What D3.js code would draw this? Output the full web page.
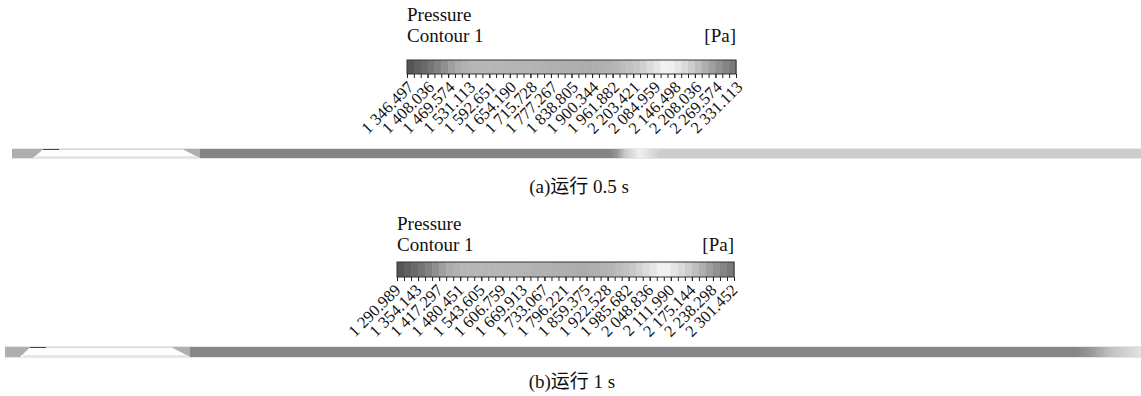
<!DOCTYPE html>
<html>
<head>
<meta charset="utf-8">
<script src="https://cdn.jsdelivr.net/npm/d3@7"></script>
<style>
  html, body { margin: 0; background: #fff; }
  svg { display: block; }
</style>
</head>
<body>
<div id="chart"></div>
<script>
// Legend tick values and the labels as printed (a)
const ticksA = [1346.497, 1408.036, 1469.574, 1531.113, 1592.651, 1654.190, 1715.728, 1777.267, 1838.805,
  1900.344, 1961.882, 2023.421, 2084.959, 2146.498, 2208.036, 2269.574, 2331.113];
const labelsA = ['1 346.497', '1 408.036', '1 469.574', '1 531.113', '1 592.651', '1 654.190', '1 715.728',
  '1 777.267', '1 838.805', '1 900.344', '1 961.882', '2 203.421', '2 084.959', '2 146.498', '2 208.036',
  '2 269.574', '2 331.113'];

// (b)
const ticksB = [1290.989, 1354.143, 1417.297, 1480.451, 1543.605, 1606.759, 1669.913, 1733.067, 1796.221,
  1859.375, 1922.528, 1985.682, 2048.836, 2111.990, 2175.144, 2238.298, 2301.452];
const labelsB = ['1 290.989', '1 354.143', '1 417.297', '1 480.451', '1 543.605', '1 606.759', '1 669.913',
  '1 733.067', '1 796.221', '1 859.375', '1 922.528', '1 985.682', '2 048.836', '2 111.990', '2 175.144',
  '2 238.298', '2 301.452'];

// grey ramp of the printed colour map (fraction of range -> grey level)
const rampPos = [0, 0.03, 0.07, 0.11, 0.15, 0.2, 0.37, 0.55, 0.63, 0.7, 0.76, 0.79, 0.85, 0.9, 0.94, 1];
const rampGray = [80, 95, 115, 140, 170, 182, 180, 172, 180, 200, 230, 245, 215, 180, 150, 115];
const nBands = 48;

// pressure along the pipe (relative position 0..1, Pa)
const pipePosA = [0, 0.0186, 0.1665, 0.1665, 0.5297, 0.536, 0.543, 0.556, 0.574, 1];
const pipePressA = [2240, 2240, 2240, 2302, 2302, 2272, 2203, 2134, 2045, 2045];
const pipePosB = [0, 0.163, 0.163, 0.943, 0.955, 0.974, 1];
const pipePressB = [2207, 2207, 2268, 2268, 2241, 2180, 2125];

// solid insert at the inlet: [top left, top right], [bottom left, bottom right]
const insertTopA = [0.0275, 0.1515];
const insertBotA = [0.0186, 0.1665];
const insertTopB = [0.022, 0.147];
const insertBotB = [0.0132, 0.163];

const width = 1141, height = 396;

const svg = d3.select('#chart').append('svg')
  .attr('width', width)
  .attr('height', height)
  .attr('viewBox', `0 0 ${width} ${height}`);

svg.append('rect').attr('width', width).attr('height', height).attr('fill', '#fff');

const defs = svg.append('defs');
const grayScale = d3.scaleLinear().domain(rampPos).range(rampGray).clamp(true);
const toGray = t => { const g = Math.round(grayScale(t)); return d3.rgb(g, g, g).formatHex(); };

const serif = '"Liberation Serif", "DejaVu Serif", serif';

function drawPanel(cfg) {
  const g = svg.append('g');
  const lo = cfg.ticks[0], hi = cfg.ticks[cfg.ticks.length - 1];
  const x = d3.scaleLinear().domain([lo, hi]).range([cfg.barX0, cfg.barX1]);
  const norm = p => (p - lo) / (hi - lo);

  // titles
  const title = (tx, ty, s, anchor) => g.append('text')
    .attr('x', tx).attr('y', ty).attr('text-anchor', anchor)
    .attr('font-family', serif).attr('font-size', 19)
    .attr('fill', '#111').text(s);
  title(cfg.barX0, cfg.titleY1, 'Pressure', 'start');
  title(cfg.barX0, cfg.titleY2, 'Contour 1', 'start');
  title(cfg.barX1, cfg.titleY2, '[Pa]', 'end');

  // colour bands
  const step = (hi - lo) / nBands;
  const bands = d3.range(nBands).map(i => lo + i * step);
  g.selectAll('rect.band').data(bands).join('rect')
    .attr('class', 'band')
    .attr('x', d => x(d))
    .attr('y', cfg.barY)
    .attr('width', x(lo + step) - x(lo) + 0.5)
    .attr('height', cfg.barH)
    .attr('fill', d => toGray(norm(d + step / 2)));
  g.append('rect')
    .attr('x', cfg.barX0).attr('y', cfg.barY)
    .attr('width', cfg.barX1 - cfg.barX0).attr('height', cfg.barH)
    .attr('fill', 'none').attr('stroke', '#333').attr('stroke-width', 1);

  // minor ticks
  const minor = d3.range(nBands + 1).map(i => lo + i * step);
  const minorAxis = d3.axisBottom(x).tickValues(minor).tickSize(4).tickFormat('');
  const ma = g.append('g').attr('transform', `translate(0,${cfg.barY + cfg.barH})`).call(minorAxis);
  ma.select('.domain').remove();
  ma.selectAll('line').attr('stroke', '#222');

  // labels
  const axis = d3.axisBottom(x).tickValues(cfg.ticks).tickSize(4)
    .tickFormat((d, i) => cfg.labels[i]);
  const ax = g.append('g').attr('transform', `translate(0,${cfg.barY + cfg.barH})`).call(axis);
  ax.select('.domain').remove();
  ax.selectAll('line').attr('stroke', '#222');
  ax.selectAll('text')
    .attr('font-family', serif)
    .attr('font-size', 16.5)
    .attr('fill', '#111')
    .attr('text-anchor', 'end')
    .attr('y', 0).attr('dy', '0.35em')
    .attr('transform', `translate(${cfg.lblDx},${cfg.lblDy}) rotate(-45)`);

  // pipe
  const px = d3.scaleLinear().domain([0, 1]).range([cfg.pipeX0, cfg.pipeX1]);
  const grad = defs.append('linearGradient').attr('id', cfg.id + '-grad')
    .attr('x1', 0).attr('x2', 1).attr('y1', 0).attr('y2', 0);
  grad.selectAll('stop').data(cfg.pipePos).join('stop')
    .attr('offset', d => d)
    .attr('stop-color', (d, i) => toGray(norm(cfg.pipePress[i])));
  g.append('rect')
    .attr('x', px(0)).attr('y', cfg.pipeY0)
    .attr('width', px(1) - px(0)).attr('height', cfg.pipeY1 - cfg.pipeY0)
    .attr('fill', `url(#${cfg.id}-grad)`);
  // light walls
  g.append('line').attr('x1', px(0)).attr('x2', px(1)).attr('y1', cfg.pipeY0 + 0.5).attr('y2', cfg.pipeY0 + 0.5)
    .attr('stroke', '#e6e6e6').attr('stroke-width', 1);
  g.append('line').attr('x1', px(0)).attr('x2', px(1)).attr('y1', cfg.pipeY1 - 0.5).attr('y2', cfg.pipeY1 - 0.5)
    .attr('stroke', '#e6e6e6').attr('stroke-width', 1);

  // insert
  const ty = cfg.pipeY0 + 1.5, by = cfg.pipeY1 - 1;
  g.append('path')
    .attr('d', `M${px(cfg.insTop[0])},${ty}L${px(cfg.insTop[1])},${ty}L${px(cfg.insBot[1])},${by}L${px(cfg.insBot[0])},${by}Z`)
    .attr('fill', '#fefefe');
  g.append('line')
    .attr('x1', px(cfg.insBot[0]) + 3).attr('x2', px(cfg.insBot[1]) - 2)
    .attr('y1', by - 1).attr('y2', by - 1)
    .attr('stroke', '#cfcfcf').attr('stroke-width', 1);
  g.append('line')
    .attr('x1', px(cfg.insTop[0])).attr('x2', px(cfg.insTop[0]) + 16)
    .attr('y1', ty).attr('y2', ty)
    .attr('stroke', '#444').attr('stroke-width', 1);

  // caption
  g.append('text').attr('x', cfg.capX).attr('y', cfg.capY).attr('text-anchor', 'middle')
    .attr('font-family', '"Liberation Serif", "Noto Sans CJK SC", serif')
    .attr('font-size', 19).attr('fill', '#111').text(cfg.caption);
}

drawPanel({
  id: 'a', ticks: ticksA, labels: labelsA,
  barX0: 407, barX1: 736, barY: 60, barH: 14,
  titleY1: 21, titleY2: 42,
  lblDx: 3, lblDy: 10,
  pipeX0: 12, pipeX1: 1141, pipeY0: 148, pipeY1: 159,
  pipePos: pipePosA, pipePress: pipePressA, insTop: insertTopA, insBot: insertBotA,
  caption: '(a)运行 0.5 s', capX: 579, capY: 193
});

drawPanel({
  id: 'b', ticks: ticksB, labels: labelsB,
  barX0: 397, barX1: 734, barY: 262, barH: 15,
  titleY1: 230, titleY2: 251,
  lblDx: 0, lblDy: 10,
  pipeX0: 5, pipeX1: 1141, pipeY0: 346, pipeY1: 358,
  pipePos: pipePosB, pipePress: pipePressB, insTop: insertTopB, insBot: insertBotB,
  caption: '(b)运行 1 s', capX: 572, capY: 388
});
</script>
</body>
</html>
